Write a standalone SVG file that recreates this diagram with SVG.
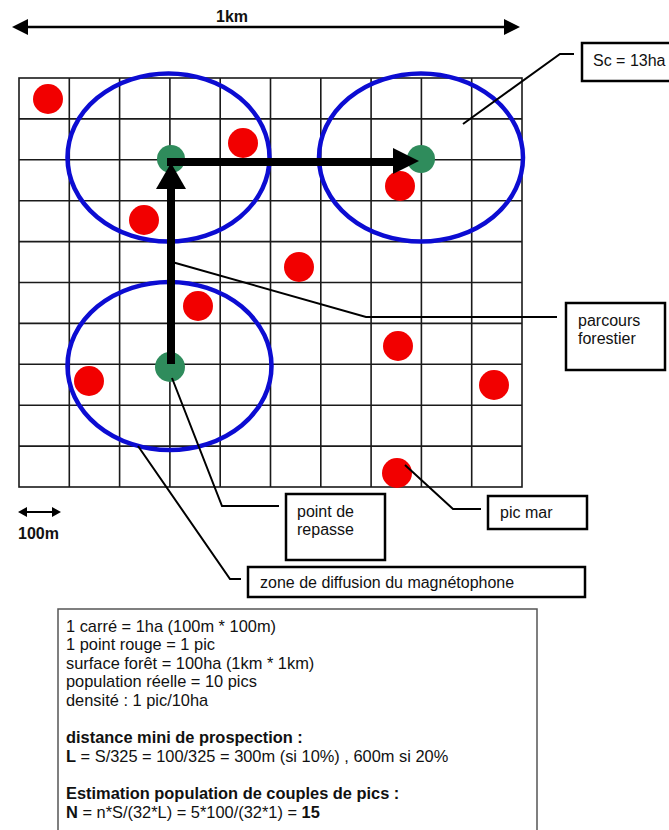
<svg xmlns="http://www.w3.org/2000/svg" width="669" height="830" viewBox="0 0 669 830">
<style>
.grid{stroke:#1a1a1a;stroke-width:1.6;fill:none}
.zone{fill:none;stroke:#0c0cd2;stroke-width:4.5}
.red{fill:#f20000}
.green{fill:#2f8c5c}
.thick{stroke:#000;stroke-width:8;fill:none}
.conn{stroke:#000;stroke-width:2;fill:none}
.box{fill:#fff;stroke:#000;stroke-width:2.5}
.lbl{font-family:"Liberation Sans",Arial,sans-serif;font-size:16px;fill:#111}
.b{font-weight:bold}
.info{font-family:"Liberation Sans",Arial,sans-serif;font-size:16.4px;fill:#111}
</style>
<defs>
<marker id="ah" markerWidth="4" markerHeight="4" refX="3.5" refY="2" orient="auto-start-reverse" markerUnits="strokeWidth"><path d="M0,0 L4,2 L0,4 z" fill="#000"/></marker>
</defs>
<rect width="669" height="830" fill="#fff"/>

<!-- scale 1km -->
<g id="scale-1km">
<line x1="26" y1="27" x2="506" y2="27" stroke="#000" stroke-width="2.5"/>
<polygon points="12,27 28,19 28,35" fill="#000"/>
<polygon points="520,27 504,19 504,35" fill="#000"/>
<text x="232" y="22" text-anchor="middle" class="lbl b">1km</text>
</g>

<!-- grid -->
<g id="grid" class="grid">
<rect x="19" y="78" width="503" height="409"/>
<path d="M69.3,78V487M119.6,78V487M169.9,78V487M220.2,78V487M270.5,78V487M320.8,78V487M371.1,78V487M421.4,78V487M471.7,78V487"/>
<path d="M19,118.9H522M19,159.8H522M19,200.7H522M19,241.6H522M19,282.5H522M19,323.4H522M19,364.3H522M19,405.2H522M19,446.1H522"/>
</g>

<!-- zones -->
<g id="zones">
<ellipse class="zone" cx="168.5" cy="157.5" rx="101" ry="84"/>
<ellipse class="zone" cx="421" cy="157.5" rx="102" ry="84"/>
<ellipse class="zone" cx="169.5" cy="366" rx="102" ry="84"/>
</g>

<!-- red dots: pics -->
<g id="pics">
<circle class="red" cx="48" cy="99" r="15"/>
<circle class="red" cx="243" cy="143" r="15"/>
<circle class="red" cx="144" cy="220" r="15"/>
<circle class="red" cx="299" cy="267" r="15"/>
<circle class="red" cx="400" cy="186" r="15"/>
<circle class="red" cx="198" cy="306" r="15"/>
<circle class="red" cx="89" cy="381" r="15"/>
<circle class="red" cx="398" cy="346" r="15"/>
<circle class="red" cx="494" cy="385" r="15"/>
<circle class="red" cx="397" cy="473" r="15"/>
</g>

<!-- green points de repasse -->
<g id="points-repasse">
<circle class="green" cx="171" cy="159" r="14"/>
<circle class="green" cx="421" cy="159" r="14"/>
<circle class="green" cx="170" cy="367" r="15"/>
</g>

<!-- parcours forestier (thick arrows) -->
<g id="parcours">
<path class="thick" d="M171,364V186"/>
<polygon points="171,163 156,189 186,189" fill="#000"/>
<path class="thick" d="M167,162H396"/>
<polygon points="419,161 393,148 393,174" fill="#000"/>
</g>

<!-- connectors -->
<g id="connectors">
<polyline class="conn" points="463,124 560,54 574,54"/>
<polyline class="conn" points="172,262 366,317 557,317"/>
<polyline class="conn" points="172,378 222,506 279,506"/>
<polyline class="conn" points="405,465 453,509 481,509" stroke-width="2.5"/>
<polyline class="conn" points="138,446 230,579 241,579" stroke-width="2.5"/>
</g>

<!-- labels -->
<g id="label-sc">
<rect class="box" x="582" y="43" width="100" height="38"/>
<text class="lbl" x="593" y="66">Sc = 13ha</text>
</g>
<g id="label-parcours">
<rect class="box" x="566" y="303" width="99" height="67"/>
<text class="lbl" x="578" y="326">parcours</text>
<text class="lbl" x="578" y="344">forestier</text>
</g>
<g id="label-point">
<rect class="box" x="286" y="494" width="99" height="66"/>
<text class="lbl" x="297" y="517">point de</text>
<text class="lbl" x="297" y="535">repasse</text>
</g>
<g id="label-pic">
<rect class="box" x="488" y="496" width="99" height="33"/>
<text class="lbl" x="500" y="518">pic mar</text>
</g>
<g id="label-zone">
<rect class="box" x="248" y="567" width="337" height="30"/>
<text class="lbl" x="260" y="588">zone de diffusion du magnétophone</text>
</g>

<!-- scale 100m -->
<g id="scale-100m">
<line x1="24" y1="512" x2="55" y2="512" stroke="#000" stroke-width="2"/>
<polygon points="18,512 27,507 27,517" fill="#000"/>
<polygon points="61,512 52,507 52,517" fill="#000"/>
<text class="lbl b" x="18" y="539" font-size="15.5">100m</text>
</g>

<!-- info box -->
<g id="info">
<rect x="58" y="609" width="479" height="240" fill="#fff" stroke="#555" stroke-width="1.5"/>
<text class="info" x="66" y="632">1 carré = 1ha (100m * 100m)</text>
<text class="info" x="66" y="650">1 point rouge = 1 pic</text>
<text class="info" x="66" y="668.5">surface forêt = 100ha (1km * 1km)</text>
<text class="info" x="66" y="687">population réelle = 10 pics</text>
<text class="info" x="66" y="705.5">densité : 1 pic/10ha</text>
<text class="info b" x="66" y="743">distance mini de prospection :</text>
<text class="info" x="66" y="761.5"><tspan class="b">L</tspan> = S/325 = 100/325 = 300m (si 10%) , 600m si 20%</text>
<text class="info b" x="66" y="799">Estimation population de couples de pics :</text>
<text class="info" x="66" y="817.5"><tspan class="b">N</tspan> = n*S/(32*L) = 5*100/(32*1) = <tspan class="b">15</tspan></text>
</g>
</svg>
